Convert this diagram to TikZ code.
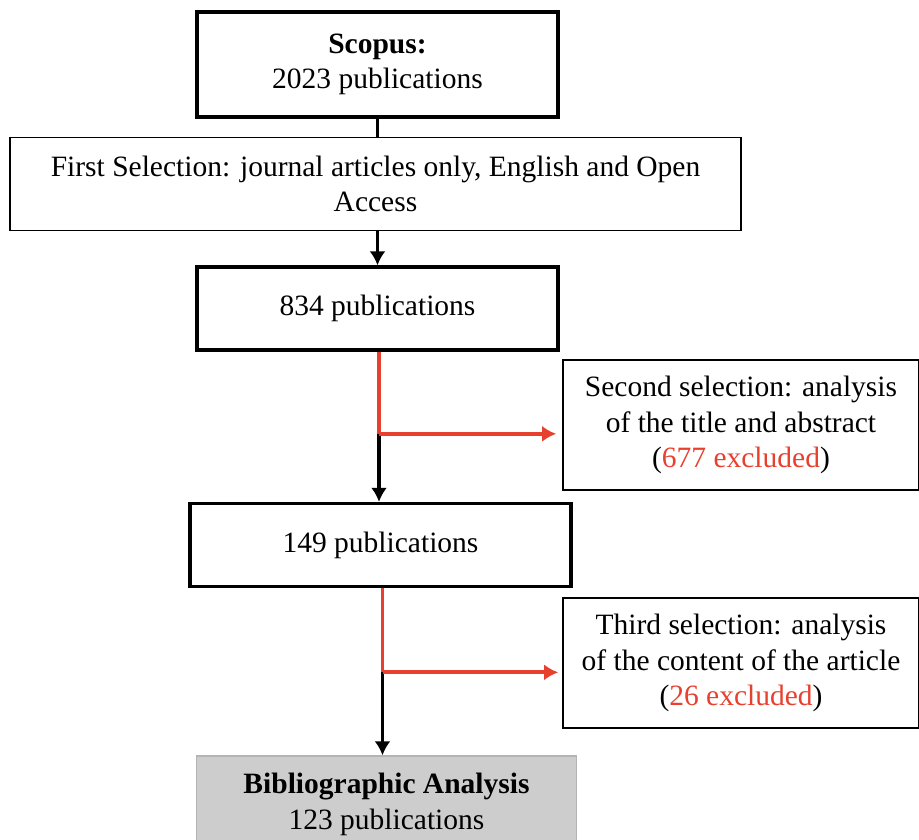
\documentclass[tikz,border=0pt]{standalone}
\usepackage{fontspec}
\setmainfont{Liberation Serif}
\usetikzlibrary{arrows.meta,positioning,calc}
\definecolor{excl}{HTML}{E8402E}
\definecolor{finalfill}{HTML}{CDCDCD}
\definecolor{finaledge}{HTML}{B4B4B4}
\newcommand{\boxfont}{\fontsize{29.5}{35.5}\selectfont}
\tikzset{
  count/.style={draw=black,line width=3.5pt,align=center,inner sep=0pt,
    minimum width=361pt,minimum height=83pt,font=\boxfont},
  selection/.style={draw=black,line width=1.6pt,align=center,inner sep=0pt,
    minimum width=356pt,minimum height=130pt,font=\boxfont},
  final/.style={draw=finaledge,fill=finalfill,line width=1.2pt,align=center,inner sep=0pt,
    minimum width=380pt,minimum height=97pt,font=\boxfont},
  arrow/.style={-{Latex[length=14pt,width=16pt]},draw=black,line width=3.8pt},
  link/.style={draw=black,line width=3.8pt},
  exclline/.style={draw=excl,line width=3.8pt},
  exclarrow/.style={-{Latex[length=14pt,width=16pt]},draw=excl,line width=3.8pt}
}

\begin{document}
\begin{tikzpicture}[x=1pt,y=-1pt]
  \useasboundingbox (0,0) rectangle (919,840);
  % main chain
  \node[count,minimum height=105pt] (scopus) at (377.5,64.5) {\textbf{Scopus:}\\2023 publications};
  \node[selection,minimum width=731pt,minimum height=93pt,below=18pt of scopus,xshift=-2pt] (first)
    {First Selection: journal articles only, English and Open\\Access};
  \node[count,below=34pt of first,xshift=2pt] (n834) {834 publications};
  \node[count,minimum width=381pt,below=150pt of n834,xshift=3pt] (n149) {149 publications};
  \node[final,below=167pt of n149,xshift=6pt] (biblio) {\textbf{Bibliographic Analysis}\\123 publications};
  % exclusions
  \node[selection] (second) at (741,425)
    {Second selection: analysis\\of the title and abstract\\(\textcolor{excl}{677 excluded})};
  \node[selection] (third) at (741,663)
    {Third selection: analysis\\of the content of the article\\(\textcolor{excl}{26 excluded})};
  % connectors
  \draw[link] (scopus.south) -- (scopus.south |- first.north);
  \draw[arrow] (first.south -| scopus.south) -- (n834.north);
  \draw[exclline] ([xshift=1.5pt]n834.south) -- ++(0,82) coordinate (split1);
  \draw[arrow] (split1) -- (split1 |- n149.north);
  \draw[exclarrow] (split1) -- ([xshift=-6pt]split1 -| second.west);
  \draw[exclline] ([xshift=2pt]n149.south) -- ++(0,84) coordinate (split2);
  \draw[arrow] (split2) -- (split2 |- biblio.north);
  \draw[exclarrow] (split2) -- ([xshift=-4pt]split2 -| third.west);
\end{tikzpicture}
\end{document}
